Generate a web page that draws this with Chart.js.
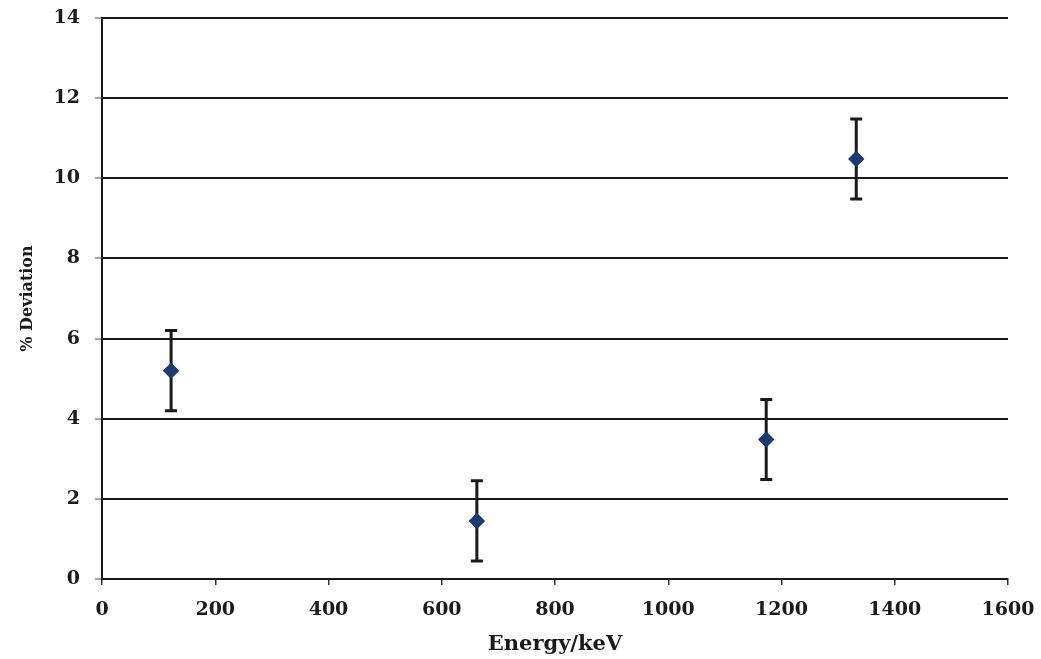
<!DOCTYPE html>
<html>
<head>
<meta charset="utf-8">
<script src="https://cdn.jsdelivr.net/npm/chart.js@4"></script>
<style>
html,body{margin:0;padding:0;background:#fff;}
#wrap{width:1041px;height:659px;position:relative;}
</style>
</head>
<body>
<div id="wrap"><canvas id="c" width="1041" height="659"></canvas></div>
<script>
const energies = [122, 662, 1173, 1332];
const deviations = [5.2, 1.45, 3.48, 10.48];
const errors = [1, 1, 1, 1];
const xTicks = [0, 200, 400, 600, 800, 1000, 1200, 1400, 1600];
const yTicks = [0, 2, 4, 6, 8, 10, 12, 14];

const errorBarPlugin = {
  id: 'errorBars',
  afterDatasetsDraw(chart) {
    const ctx = chart.ctx;
    const xs = chart.scales.x, ys = chart.scales.y;
    ctx.save();
    ctx.strokeStyle = '#1a1a1a';
    ctx.lineWidth = 3;
    for (let i = 0; i < energies.length; i++) {
      const px = xs.getPixelForValue(energies[i]);
      const top = ys.getPixelForValue(deviations[i] + errors[i]);
      const bot = ys.getPixelForValue(deviations[i] - errors[i]);
      ctx.beginPath();
      ctx.moveTo(px, top); ctx.lineTo(px, bot);
      ctx.moveTo(px - 6, top); ctx.lineTo(px + 6, top);
      ctx.moveTo(px - 6, bot); ctx.lineTo(px + 6, bot);
      ctx.stroke();
    }
    ctx.restore();
    const meta = chart.getDatasetMeta(0);
    meta.data.forEach(p => p.draw(ctx));
  }
};

const fam = '"DejaVu Serif", "Liberation Serif", serif';
const tickFont = {family: fam, weight: 'bold', size: 19};

new Chart(document.getElementById('c'), {
  type: 'scatter',
  data: {
    datasets: [{
      data: energies.map((e, i) => ({x: e, y: deviations[i]})),
      pointStyle: 'rectRot',
      radius: 8,
      backgroundColor: '#1f3a6e',
      borderColor: '#1f3a6e',
      borderWidth: 0
    }]
  },
  options: {
    responsive: false,
    animation: false,
    layout: {padding: {left: 0, right: 33, top: 18, bottom: 0}},
    plugins: {legend: {display: false}, tooltip: {enabled: false}},
    scales: {
      x: {
        type: 'linear', min: 0, max: 1600,
        afterBuildTicks: s => { s.ticks = xTicks.map(v => ({value: v})); },
        afterFit: s => { s.height = 80; s.paddingLeft = 0; s.paddingRight = 0; },
        border: {display: true, color: '#1a1a1a', width: 2},
        grid: {drawOnChartArea: false, drawTicks: true, tickLength: 6, color: '#333', lineWidth: 1.5},
        ticks: {color: '#1a1a1a', font: tickFont, padding: 14, maxRotation: 0, callback: v => String(v)},
        title: {display: true, text: 'Energy/keV', color: '#1a1a1a', font: {family: fam, weight: 'bold', size: 21}, padding: {top: 2, bottom: 2}}
      },
      y: {
        type: 'linear', min: 0, max: 14,
        afterBuildTicks: s => { s.ticks = yTicks.map(v => ({value: v})); },
        afterFit: s => { s.width = 102; s.paddingTop = 0; s.paddingBottom = 0; },
        border: {display: true, color: '#1a1a1a', width: 2},
        grid: {color: '#1a1a1a', lineWidth: 2, tickLength: 7, tickColor: '#888', tickWidth: 1.5},
        ticks: {color: '#1a1a1a', font: tickFont, padding: 15, callback: v => String(v)},
        title: {display: true, text: '% Deviation', color: '#1a1a1a', font: {family: fam, weight: 'bold', size: 16}, padding: {top: 18, bottom: 0}}
      }
    }
  },
  plugins: [errorBarPlugin]
});
</script>
</body>
</html>
